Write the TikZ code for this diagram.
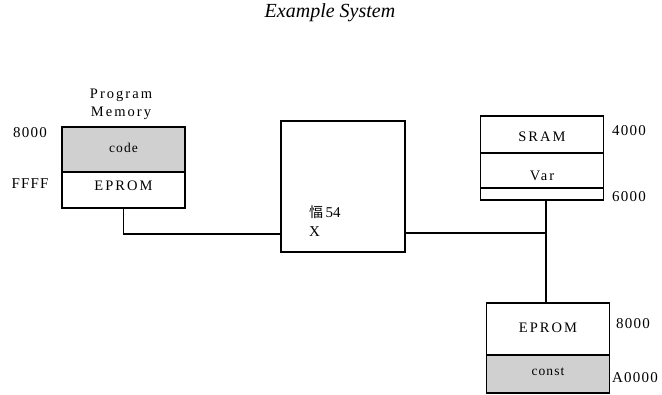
\documentclass[tikz,border=0pt]{standalone}
\usepackage{fontspec}
\setmainfont{Liberation Serif}
\newfontfamily\cjk{Noto Sans CJK SC}
\usepackage{xcolor}
\definecolor{memgray}{RGB}{208,208,208}

\begin{document}
\begin{tikzpicture}[x = 1pt, y = -1pt, line width = 1.4pt]
\tikzset{
  membox/.style = {draw = black, minimum width = 123pt, inner sep = 0pt, anchor = center},
  addr/.style = {font = \fontsize{15}{17}\selectfont\addfontfeature{LetterSpace=8}},
  label/.style = {font = \fontsize{14.5}{18}\selectfont\addfontfeature{LetterSpace=14}},
  sublabel/.style = {font = \fontsize{13.5}{15}\selectfont\addfontfeature{LetterSpace=8}}
}
\useasboundingbox (0, 0) rectangle (662, 395);

\node [font = \fontsize{20}{22}\selectfont\itshape] (title) at (330, 13) {Example System};

% program memory
\node [label, align = center] (pmem) at (121, 104) {Program\\Memory};
\node [membox, fill = memgray, minimum height = 45pt] (code) at (123.5, 149.5) {};
\node [sublabel] at (123.5, 148) {code};
\node [membox, minimum height = 36pt] (eprom0) at (123.5, 190) {};
\node [label] at (123.5, 186) {EPROM};
\node [addr] (a8000l) at (30, 133) {8000};
\node [addr] (affff) at (30, 184) {FFFF};

% processor
\node [draw = black, minimum width = 124pt, minimum height = 131pt] (cpu) at (343, 186.5) {};
\node [anchor = west, font = \fontsize{15}{17}\selectfont] (cpuname) at (305, 212) {{\cjk\fontsize{14}{16}\selectfont 愊}\,54};
\node [anchor = west, font = \fontsize{15}{17}\selectfont] (cpux) at (305, 232) {X};

% data memory
\node [membox, minimum height = 37pt] (sram) at (542, 134.5) {};
\node [label] at (542, 137) {SRAM};
\node [membox, minimum height = 35pt] (var) at (542, 170.5) {};
\node [label] at (542, 176) {Var};
\node [membox, minimum height = 12pt] (free) at (542, 194) {};
\node [addr] (a4000) at (629, 131) {4000};
\node [addr] (a6000) at (629, 197) {6000};

% constant memory
\node [membox, minimum height = 52pt] (eprom1) at (548, 329) {};
\node [label] at (548, 328) {EPROM};
\node [membox, fill = memgray, minimum height = 38pt] (const) at (548, 374) {};
\node [sublabel] at (548, 372) {const};
\node [addr] (a8000r) at (633, 324) {8000};
\node [addr] (aa0000) at (635, 378) {A0000};

% bus
\coordinate (busl) at (281, 234);
\coordinate (busr) at (405, 233);
\coordinate (tap) at (546, 233);
\path [draw] (eprom0.south) |- (busl);
\path [draw] (busr) -- (tap);
\path [draw] (free.south -| tap) -- (eprom1.north -| tap);
\end{tikzpicture}
\end{document}
